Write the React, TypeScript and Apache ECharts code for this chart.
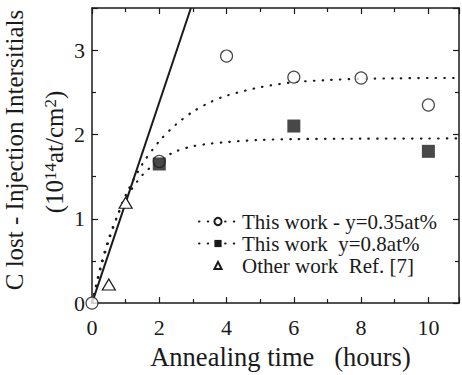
import React, { useEffect, useRef } from "react";
import * as echarts from "echarts";

const NAME_035 = "This work - y=0.35at%";
const NAME_08 = "This work  y=0.8at%";
const NAME_REF = "Other work  Ref. [7]";

const points035: [number, number][] = [[0, 0], [2, 1.68], [4, 2.93], [6, 2.68], [8, 2.67], [10, 2.35]];
const points08: [number, number][] = [[2, 1.65], [6, 2.1], [10, 1.8]];
const pointsRef: [number, number][] = [[0.5, 0.22], [1, 1.19]];

const fit035: [number, number][] = [
  [0, 0], [0.25, 0.4], [0.5, 0.74], [0.75, 1.03], [1, 1.28], [1.5, 1.65], [2, 1.92], [2.5, 2.12],
  [3, 2.27], [3.5, 2.38], [4, 2.46], [5, 2.56], [6, 2.62], [7, 2.645], [8, 2.66], [9, 2.665], [10, 2.67], [10.9, 2.67],
];
const fit08: [number, number][] = [
  [0, 0], [0.25, 0.43], [0.5, 0.77], [0.75, 1.03], [1, 1.24], [1.5, 1.52], [2, 1.69], [2.5, 1.8],
  [3, 1.86], [3.5, 1.89], [4, 1.91], [5, 1.935], [6, 1.945], [8, 1.95], [10, 1.952], [10.9, 1.953],
];
const linearFit: [number, number][] = [[0, 0], [2.94, 3.5]];

const xTitle = "Annealing time   (hours)";
const yTitle1 = "C lost - Injection Intersitials";
const yTitle2 = "(10{sup|14}at/cm{sup|2})";

const FONT = "'Liberation Serif', 'Times New Roman', serif";
const INK = "#1a1a1a";
const DOT: number[] = [0.5, 8.2];

export default function App() {
  const ref = useRef<HTMLDivElement>(null);
  useEffect(() => {
    if (!ref.current) return;
    const chart = echarts.init(ref.current, undefined, { renderer: "svg" });
    const axisCommon = {
      axisLine: { show: true, onZero: false, lineStyle: { color: INK, width: 1.5 } },
      axisTick: { show: true, inside: true, length: 6, lineStyle: { color: INK, width: 1.2 } },
      minorTick: { show: true, splitNumber: 2, length: 4, lineStyle: { color: INK, width: 1.2 } },
      splitLine: { show: false },
      minorSplitLine: { show: false },
    };
    chart.setOption({
      animation: false,
      backgroundColor: "#ffffff",
      grid: { left: 92, top: 8, width: 371, height: 304 },
      legend: {
        orient: "vertical",
        left: 198,
        top: 211,
        padding: 0,
        itemWidth: 38,
        itemHeight: 9,
        itemGap: 1,
        textStyle: { fontFamily: FONT, fontSize: 21, color: INK, lineHeight: 20 },
        data: [NAME_035, NAME_08, NAME_REF],
      },
      xAxis: [
        {
          type: "value", min: 0, max: 10.91, interval: 2, position: "bottom",
          ...axisCommon,
          axisLabel: {
            fontFamily: FONT, fontSize: 22, color: INK, margin: 13,
            formatter: (v: number) => (Math.abs(v - Math.round(v)) < 1e-6 && Math.round(v) % 2 === 0 ? String(Math.round(v)) : ""),
          },
          name: xTitle, nameLocation: "middle", nameGap: 31,
          nameTextStyle: { fontFamily: FONT, fontSize: 26.5, color: INK, padding: [0, 0, 0, 10] },
        },
        {
          type: "value", min: 0, max: 10.91, interval: 2, position: "top",
          ...axisCommon,
          axisLabel: { show: false },
        },
      ],
      yAxis: [
        {
          type: "value", min: 0, max: 3.5, interval: 1, position: "left",
          ...axisCommon,
          axisLabel: {
            fontFamily: FONT, fontSize: 22, color: INK, margin: 7,
            formatter: (v: number) => (Math.abs(v - Math.round(v)) < 1e-6 ? String(Math.round(v)) : ""),
          },
        },
        {
          type: "value", min: 0, max: 3.5, interval: 1, position: "right",
          ...axisCommon,
          axisLabel: { show: false },
        },
      ],
      graphic: [
        {
          type: "text", x: 14.5, y: 150, rotation: Math.PI / 2,
          style: {
            text: yTitle1, fontFamily: FONT, fontSize: 25, fill: INK,
            textAlign: "center", textVerticalAlign: "middle", align: "center", verticalAlign: "middle",
          },
        },
        {
          type: "text", x: 54, y: 152, rotation: Math.PI / 2,
          style: {
            text: yTitle2, fontFamily: FONT, fontSize: 25, fill: INK,
            textAlign: "center", textVerticalAlign: "middle", align: "center", verticalAlign: "middle",
            rich: {
              sup: { fontFamily: FONT, fontSize: 17, fill: INK, verticalAlign: "top" },
            },
          },
        },
      ],
      series: [
        {
          name: "linear", type: "line", data: linearFit, symbol: "none", clip: true,
          lineStyle: { color: INK, width: 2 }, z: 2,
        },
        {
          name: NAME_035, type: "line", data: fit035, smooth: 0.3, symbol: "circle", showSymbol: false,
          lineStyle: { color: INK, width: 2.2, type: DOT, cap: "round" },
          itemStyle: { color: "#ffffff", borderColor: INK, borderWidth: 1.2 },
          z: 2,
        },
        {
          name: NAME_08, type: "line", data: fit08, smooth: 0.3, symbol: "rect", showSymbol: false,
          lineStyle: { color: INK, width: 2.2, type: DOT, cap: "round" },
          itemStyle: { color: INK },
          z: 2,
        },
        {
          name: "pts035", type: "scatter", data: points035, symbol: "circle", symbolSize: 12,
          itemStyle: { color: "#ffffff", borderColor: INK, borderWidth: 1.2 }, z: 4, clip: false,
        },
        {
          name: "pts08", type: "scatter", data: points08, symbol: "rect", symbolSize: 13,
          itemStyle: { color: INK }, z: 4,
        },
        {
          name: NAME_REF, type: "line", data: pointsRef, symbol: "triangle", symbolSize: [13, 11],
          showSymbol: true,
          lineStyle: { opacity: 0, width: 0 },
          itemStyle: { color: "#ffffff", borderColor: INK, borderWidth: 1.2 }, z: 4,
        },
      ],
    });
    return () => chart.dispose();
  }, []);
  return (
    <div
      ref={ref}
      style={{ position: "absolute", left: 0, top: 0, width: 462, height: 375, background: "#fff" }}
    />
  );
}
